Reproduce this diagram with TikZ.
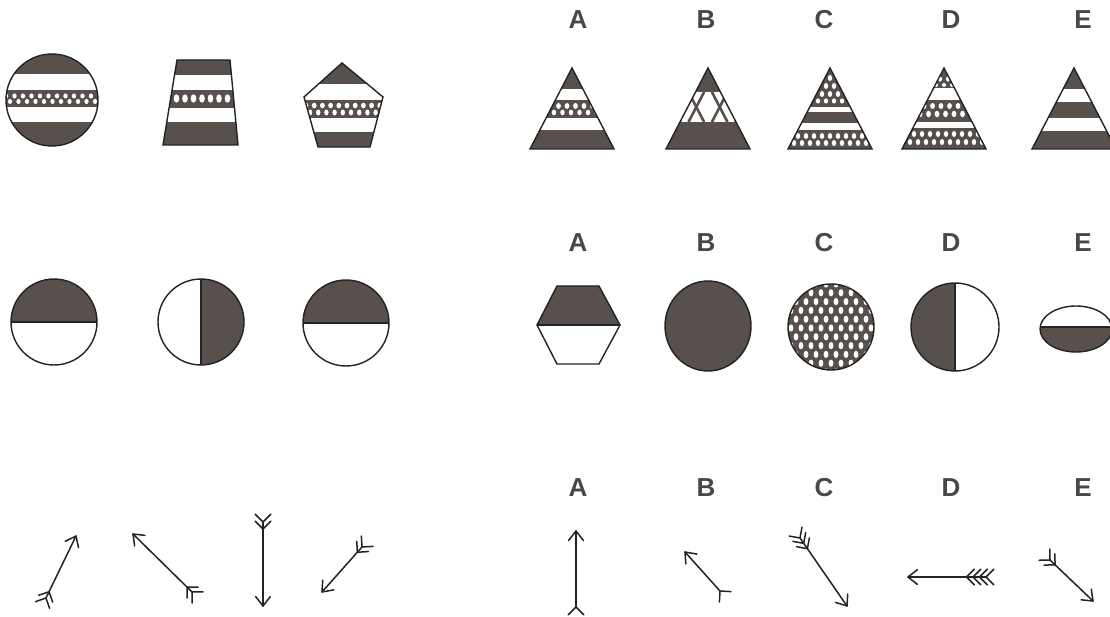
\documentclass[tikz,border=0pt]{standalone}
\usepackage{fontspec}
\setmainfont{Liberation Sans}
\usetikzlibrary{calc}
\definecolor{shd}{RGB}{88,80,76}
\definecolor{ink}{RGB}{35,35,35}
\definecolor{lbl}{RGB}{72,72,72}
\tikzset{
  outl/.style={draw=ink, line width=1.4pt},
  lab/.style={text=lbl, font=\fontsize{26}{26}\selectfont\bfseries, inner sep=0pt},
  arr/.style={draw=ink, line width=1.5pt, line cap=round, line join=round},
  lattice/.style={draw=shd, line width=2.6pt},
}
% row of white lenses: x0, dx, n, y, rx, ry
\newcommand\lensrow[6]{\foreach \k in {0,...,#3}{\fill[white] ({#1+\k*#2},#4) ellipse [x radius=#5, y radius=#6];}}
% arrow glyph: tail, tip, number of fletchings, spacing
\newcommand\fletcharrow[4]{%
  \coordinate (T) at (#1); \coordinate (H) at (#2);
  \coordinate (B) at ($(T)!-20pt!(H)$);
  \draw[arr] (T) -- (H);
  \draw[arr] ($(H)!12pt!38:(T)$) -- (H) -- ($(H)!12pt!-38:(T)$);
  \foreach \i in {1,...,#3}{
    \pgfmathsetmacro\dd{(\i-1)*#4}
    \coordinate (P) at ($(T)!\dd pt!(H)$);
    \draw[arr] ($(P)!11pt!45:(B)$) -- (P) -- ($(P)!11pt!-45:(B)$);
  }%
}
\begin{document}
\begin{tikzpicture}[x=1pt,y=-1pt]
\useasboundingbox (0,0) rectangle (1110,617);
\fill[white] (0,0) rectangle (1110,617);

% ---------- Row 1 left ----------
\begin{scope}
  \clip (52,100) circle (46);
  \fill[shd] (0,50) rectangle (110,150);
  \fill[white] (0,74) rectangle (110,90);
  \fill[white] (0,107) rectangle (110,122);
  \lensrow{6}{8.5}{11}{96}{2.2}{2.5}
  \lensrow{10}{8.5}{11}{101.5}{2.1}{2.5}
\end{scope}
\draw[outl] (52,100) circle (46);

\begin{scope}
  \clip (177,60) -- (230,60) -- (238,145) -- (163,145) -- cycle;
  \fill[shd] (150,55) rectangle (250,150);
  \fill[white] (150,75) rectangle (250,90);
  \fill[white] (150,108) rectangle (250,122);
  \lensrow{168}{8.5}{9}{98.5}{2.8}{4.2}
\end{scope}
\draw[outl] (177,60) -- (230,60) -- (238,145) -- (163,145) -- cycle;

\begin{scope}
  \clip (342,63) -- (383,97) -- (370,147) -- (318,147) -- (304,97) -- cycle;
  \fill[shd] (300,60) rectangle (390,150);
  \fill[white] (300,84) rectangle (390,100);
  \fill[white] (300,118) rectangle (390,132);
  \lensrow{306}{8.2}{10}{105.5}{2.4}{2.8}
  \lensrow{310}{8.2}{10}{112.5}{2.2}{3}
\end{scope}
\draw[outl] (342,63) -- (383,97) -- (370,147) -- (318,147) -- (304,97) -- cycle;

% ---------- Row 1 right ----------
\node[lab] (t1a) at (578,20) {A};
\node[lab] (t1b) at (706,20) {B};
\node[lab] (t1c) at (824,20) {C};
\node[lab] (t1d) at (951,20) {D};
\node[lab] (t1e) at (1083,20) {E};

% A
\begin{scope}
  \clip (572,68) -- (614,149) -- (530,149) -- cycle;
  \fill[shd] (525,60) rectangle (620,150);
  \fill[white] (525,89) rectangle (620,100);
  \fill[white] (525,118) rectangle (620,130);
  \lensrow{550}{8.5}{6}{106}{2.4}{3}
  \lensrow{554}{8.5}{5}{112.5}{2.2}{2.8}
\end{scope}
\draw[outl] (572,68) -- (614,149) -- (530,149) -- cycle;

% B
\begin{scope}
  \clip (708,68) -- (750,149) -- (666,149) -- cycle;
  \fill[shd] (660,60) rectangle (755,150);
  \fill[white] (660,92) rectangle (755,122);
  \clip (660,92) rectangle (755,122);
  \foreach \c in {649.5,672.9,696.3,719.7,743.1,766.5}{
    \draw[lattice] ({\c-7.8},92) -- ({\c+7.8},122);
    \draw[lattice] ({\c+7.8},92) -- ({\c-7.8},122);
  }
\end{scope}
\draw[outl] (708,68) -- (750,149) -- (666,149) -- cycle;

% C
\begin{scope}
  \clip (830,68) -- (872,149) -- (788,149) -- cycle;
  \fill[shd] (780,60) rectangle (880,150);
  \lensrow{822}{8}{2}{78}{2.2}{3}
  \lensrow{818}{8}{3}{86}{2.2}{3}
  \lensrow{814}{8}{4}{94}{2.2}{3}
  \lensrow{810}{8}{5}{101}{2.2}{2.6}
  \fill[white] (780,107) rectangle (880,112);
  \fill[white] (780,123) rectangle (880,130);
  \lensrow{790}{8}{10}{136}{2.2}{3}
  \lensrow{794}{8}{10}{143}{2.2}{3}
\end{scope}
\draw[outl] (830,68) -- (872,149) -- (788,149) -- cycle;

% D
\begin{scope}
  \clip (944,68) -- (986,149) -- (902,149) -- cycle;
  \fill[shd] (895,60) rectangle (995,150);
  \lensrow{940}{8}{1}{79}{2}{2.6}
  \lensrow{936}{8}{2}{85}{2}{2}
  \fill[white] (895,88) rectangle (995,100);
  \lensrow{924}{8.5}{5}{106}{2.4}{3}
  \lensrow{920}{8.5}{6}{114}{2.4}{3.2}
  \fill[white] (895,122) rectangle (995,128);
  \lensrow{906}{8}{10}{134}{2.2}{3}
  \lensrow{910}{8}{10}{142}{2.2}{3}
\end{scope}
\draw[outl] (944,68) -- (986,149) -- (902,149) -- cycle;

% E
\begin{scope}
  \clip (1074,68) -- (1116,149) -- (1032,149) -- cycle;
  \fill[shd] (1025,60) rectangle (1120,150);
  \fill[white] (1025,89) rectangle (1120,102);
  \fill[white] (1025,118) rectangle (1120,131);
\end{scope}
\draw[outl] (1074,68) -- (1116,149) -- (1032,149) -- cycle;

% ---------- Row 2 left ----------
\begin{scope}
  \clip (54,322) circle (43);
  \fill[shd] (0,270) rectangle (110,322);
\end{scope}
\draw[outl] (11,322) -- (97,322);
\draw[outl] (54,322) circle (43);

\begin{scope}
  \clip (201,322) circle (43);
  \fill[shd] (201,270) rectangle (250,375);
\end{scope}
\draw[outl] (201,279) -- (201,365);
\draw[outl] (201,322) circle (43);

\begin{scope}
  \clip (346,323) circle (43);
  \fill[shd] (300,270) rectangle (400,323);
\end{scope}
\draw[outl] (303,323) -- (389,323);
\draw[outl] (346,323) circle (43);

% ---------- Row 2 right ----------
\node[lab] (t2a) at (578,243) {A};
\node[lab] (t2b) at (706,243) {B};
\node[lab] (t2c) at (824,243) {C};
\node[lab] (t2d) at (951,243) {D};
\node[lab] (t2e) at (1083,243) {E};

\begin{scope}
  \clip (557,286) -- (599,286) -- (620,325) -- (599,364) -- (557,364) -- (537,325) -- cycle;
  \fill[shd] (530,280) rectangle (625,325);
\end{scope}
\draw[outl] (537,325) -- (620,325);
\draw[outl] (557,286) -- (599,286) -- (620,325) -- (599,364) -- (557,364) -- (537,325) -- cycle;

\fill[shd] (708,326) ellipse [x radius=43, y radius=45];
\draw[outl] (708,326) ellipse [x radius=43, y radius=45];

\begin{scope}
  \clip (831,327) circle (43);
  \fill[shd] (780,280) rectangle (880,375);
  \foreach \r in {0,...,10}{
    \pgfmathsetmacro\ox{mod(\r,2)*5}
    \foreach \k in {0,...,9}{
      \fill[white] ({786+\ox+\k*10},{284+\r*8.8}) ellipse [x radius=2.4, y radius=3.6];
    }
  }
\end{scope}
\draw[outl] (831,327) circle (43);

\begin{scope}
  \clip (955,327) circle (44);
  \fill[shd] (905,280) rectangle (955,375);
\end{scope}
\draw[outl] (955,283) -- (955,371);
\draw[outl] (955,327) circle (44);

\begin{scope}
  \clip (1076,329) ellipse [x radius=36, y radius=23];
  \fill[shd] (1035,327) rectangle (1115,360);
\end{scope}
\draw[outl] (1040,327) -- (1112,327);
\draw[outl] (1076,329) ellipse [x radius=36, y radius=23];

% ---------- Row 3 left ----------
\fletcharrow{46,598}{76,536}{2}{7}
\fletcharrow{192,592}{133,534}{2}{7}
\fletcharrow{263,522}{263,606}{2}{7}
\fletcharrow{362,547}{322,592}{2}{7}

% ---------- Row 3 right ----------
\node[lab] (t3a) at (578,488) {A};
\node[lab] (t3b) at (706,488) {B};
\node[lab] (t3c) at (824,488) {C};
\node[lab] (t3d) at (951,488) {D};
\node[lab] (t3e) at (1083,488) {E};

\fletcharrow{576,607}{576,531}{1}{7}
\fletcharrow{720,591}{685,552}{1}{7}
\fletcharrow{800,538}{847,606}{3}{6.5}
\fletcharrow{986,577}{908,577}{4}{6.5}
\fletcharrow{1050,560}{1093,601}{2}{7}
\end{tikzpicture}
\end{document}
